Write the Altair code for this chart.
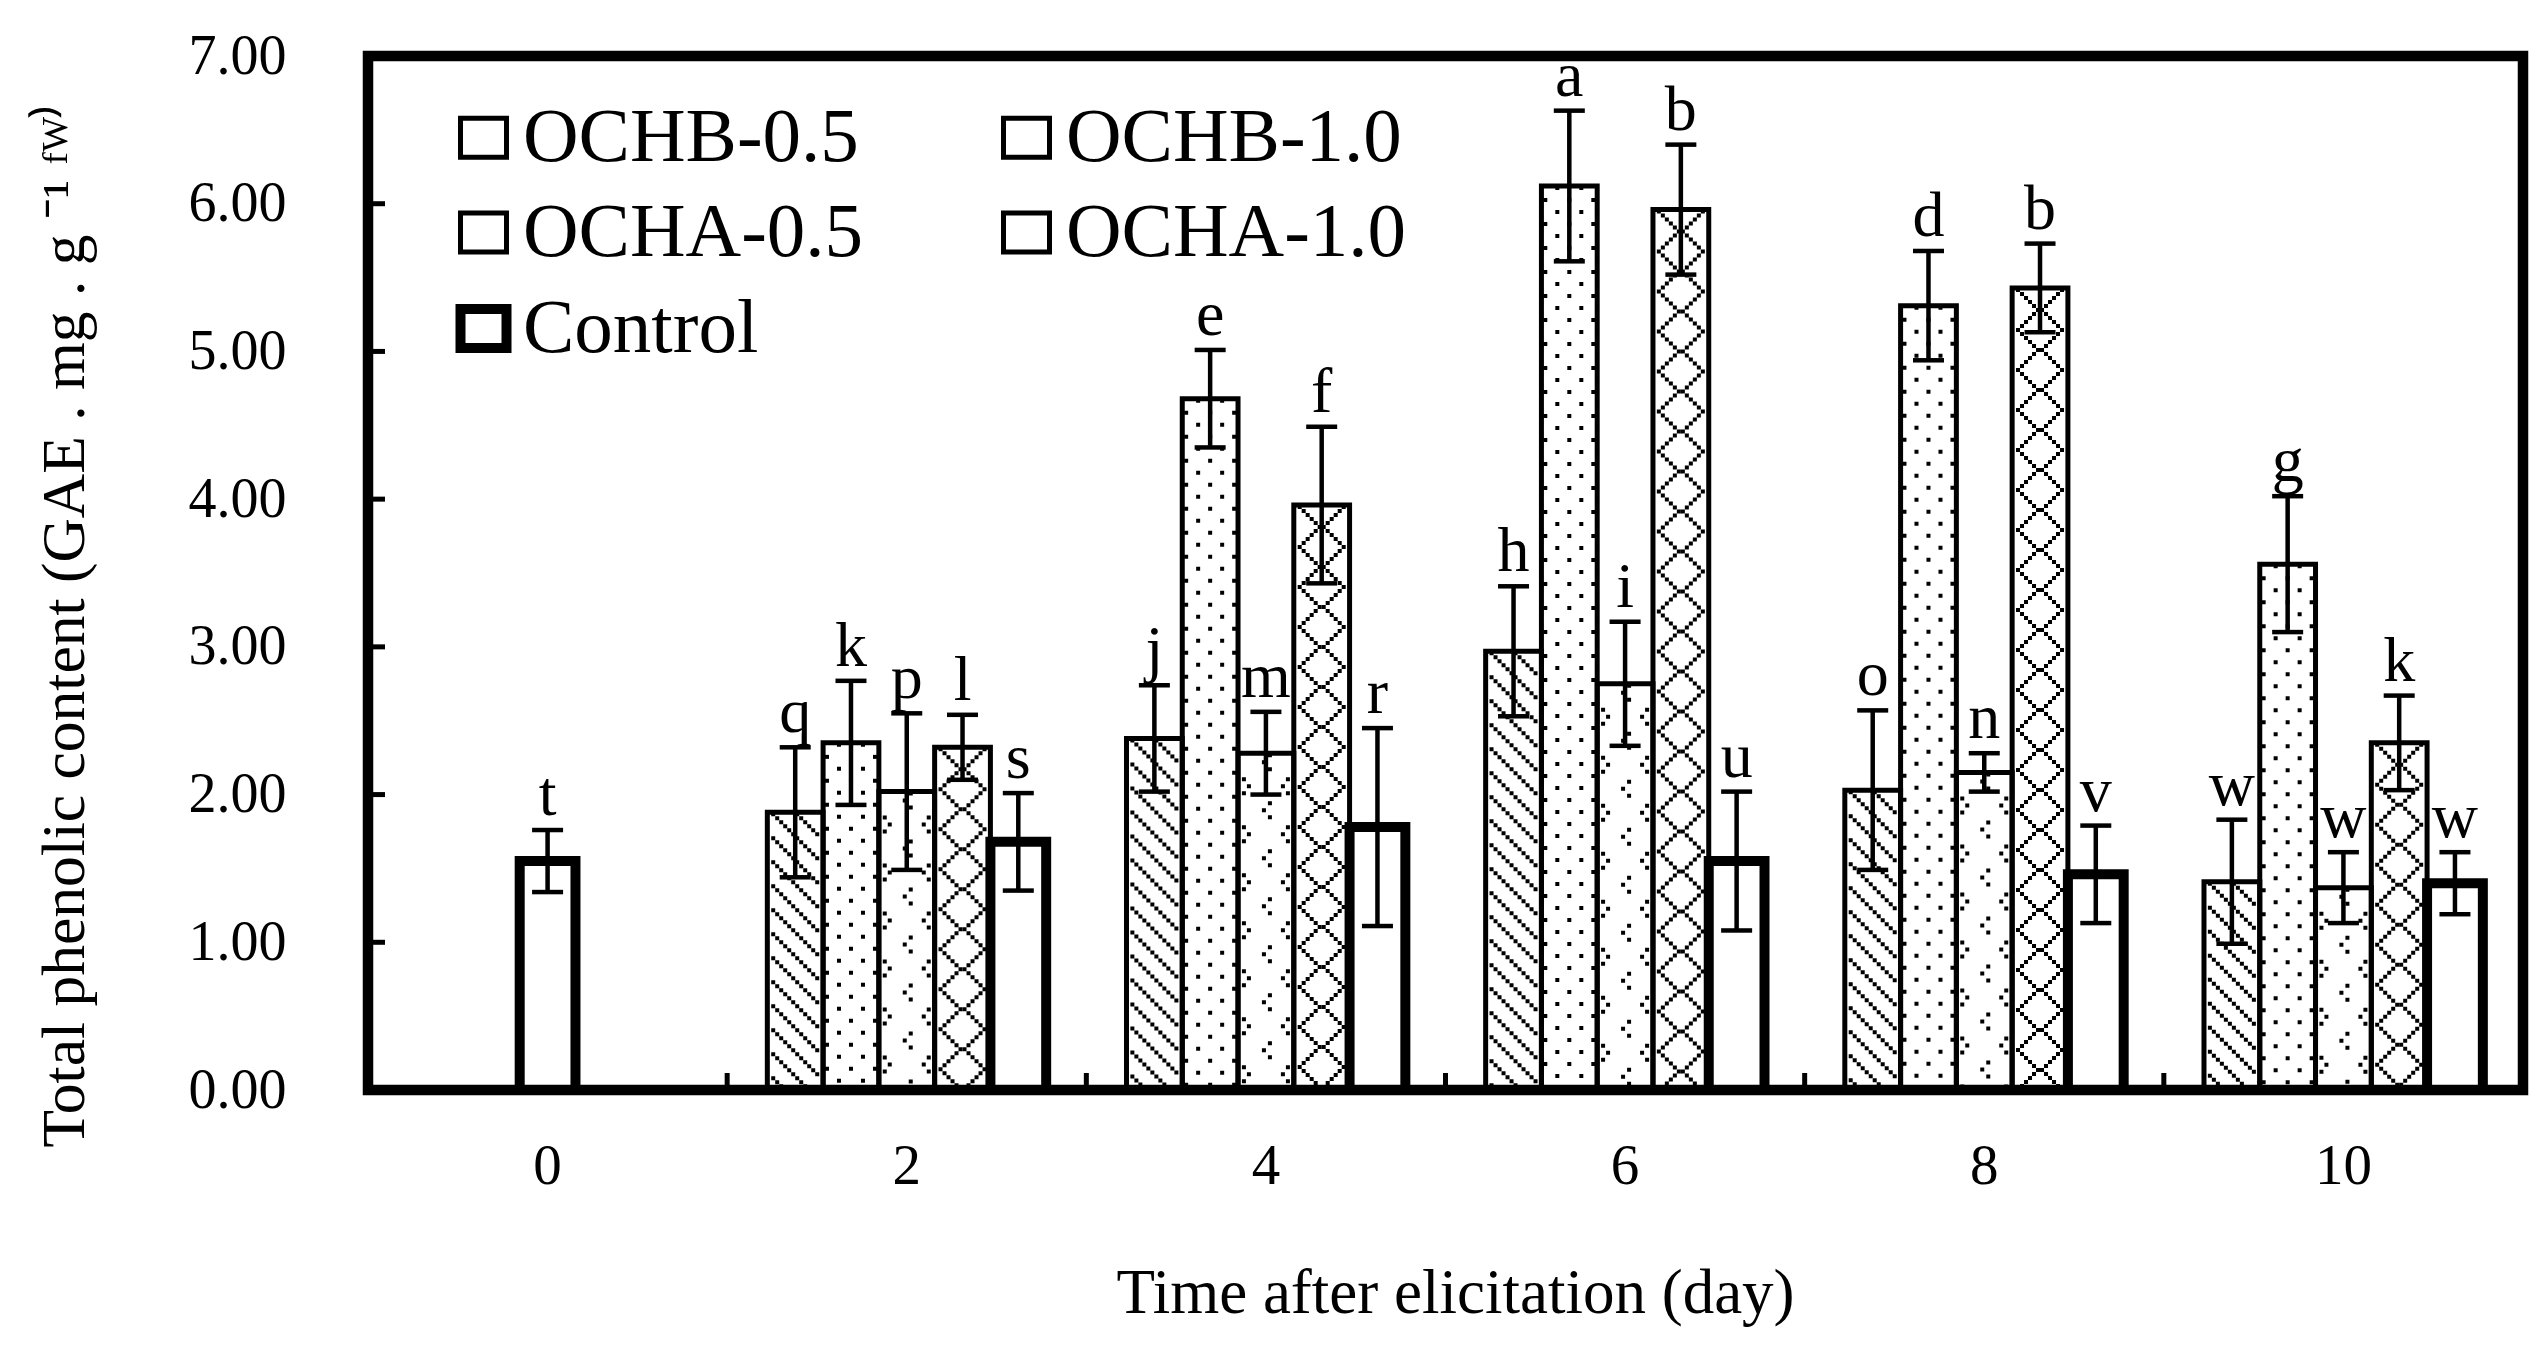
import altair as alt
import pandas as pd

# ---------------------------------------------------------------- data
series = ["OCHB-0.5", "OCHB-1.0", "OCHA-0.5", "OCHA-1.0", "Control"]
days = [0, 2, 4, 6, 8, 10]
treated_days = [2, 4, 6, 8, 10]

ochb_05 = [1.88, 2.38, 2.97, 2.03, 1.41]
ochb_05_sd = [0.44, 0.36, 0.44, 0.54, 0.42]
ochb_05_grp = ["q", "j", "h", "o", "w"]

ochb_10 = [2.35, 4.68, 6.12, 5.31, 3.56]
ochb_10_sd = [0.42, 0.33, 0.51, 0.37, 0.46]
ochb_10_grp = ["k", "e", "a", "d", "g"]

ocha_05 = [2.02, 2.28, 2.75, 2.15, 1.37]
ocha_05_sd = [0.53, 0.28, 0.42, 0.13, 0.24]
ocha_05_grp = ["p", "m", "i", "n", "w"]

ocha_10 = [2.32, 3.96, 5.96, 5.43, 2.35]
ocha_10_sd = [0.22, 0.53, 0.44, 0.30, 0.32]
ocha_10_grp = ["l", "f", "b", "b", "k"]

control = [1.55, 1.68, 1.78, 1.55, 1.46, 1.40]
control_sd = [0.21, 0.33, 0.67, 0.47, 0.33, 0.21]
control_grp = ["t", "s", "r", "u", "v", "w"]

y_label_values = [0, 1, 2, 3, 4, 5, 6, 7]
y_tick_values = [1, 2, 3, 4, 5, 6]

rows = []
for name, vals, sds, grps in [
    ("OCHB-0.5", ochb_05, ochb_05_sd, ochb_05_grp),
    ("OCHB-1.0", ochb_10, ochb_10_sd, ochb_10_grp),
    ("OCHA-0.5", ocha_05, ocha_05_sd, ocha_05_grp),
    ("OCHA-1.0", ocha_10, ocha_10_sd, ocha_10_grp),
]:
    for d, v, s, g in zip(treated_days, vals, sds, grps):
        rows.append({"series": name, "day": d, "value": v, "sd": s, "grp": g})
for d, v, s, g in zip(days, control, control_sd, control_grp):
    rows.append({"series": "Control", "day": d, "value": v, "sd": s, "grp": g})
df = pd.DataFrame(rows)

# ---------------------------------------------------------------- layout
FONT = "Liberation Serif"
W, H = 2155, 1034
N_SLOTS = len(series)
SLOT_PAD = 0.72
STEP = W / len(days)

x_scale = alt.Scale(domain=days, paddingInner=0, paddingOuter=0)
y_scale = alt.Scale(domain=[0, 7], nice=False)
off_scale = alt.Scale(domain=series, paddingInner=0, paddingOuter=SLOT_PAD)

x_plain = alt.X("day:O", scale=x_scale)
x_off = alt.XOffset("slot:N", scale=off_scale)

base = alt.Chart(df).transform_calculate(
    # the lone day-0 control bar sits in the middle of its group
    slot="datum.day === 0 ? 'OCHA-0.5' : datum.series",
    lo="datum.value - datum.sd",
    hi="datum.value + datum.sd",
)

# ---------------------------------------------------------------- axes + legend
legend = alt.Legend(
    title=None, orient="none", legendX=77, legendY=43, columns=2,
    direction="horizontal", columnPadding=124, rowPadding=17, padding=0,
    labelFont=FONT, labelFontSize=77, labelColor="black", labelLimit=1000,
    labelOffset=1, symbolType="M-1,-0.85L1,-0.85L1,0.85L-1,0.85Z",
    symbolSize=2116, symbolStrokeColor="black", symbolFillColor="white",
    symbolOpacity=1,
)

x_axis = alt.Axis(
    labelFont=FONT, labelFontSize=57, labelColor="black", labelAngle=0,
    labelPadding=48, ticks=False, domain=False, grid=False,
    titleFont=FONT, titleFontSize=63, titleFontWeight="normal", titleColor="black",
    titleX=1087, titleY=222, titleAlign="center", titleBaseline="alphabetic",
)
y_axis = alt.Axis(
    values=y_label_values, format=".2f",
    labelFont=FONT, labelFontSize=56, labelColor="black", labelPadding=82,
    ticks=False, domain=False, grid=False,
    titleFont=FONT, titleFontSize=61.5, titleFontWeight="normal", titleColor="black",
    titleAngle=270, titleX=-285, titleY=569, titleAlign="center",
    titleBaseline="alphabetic",
)

# bar outlines carry the axes and the legend
bars = base.mark_bar(fillOpacity=0).encode(
    x=alt.X("day:O", scale=x_scale, axis=x_axis, title="Time after elicitation (day)"),
    xOffset=x_off,
    y=alt.Y("value:Q", scale=y_scale, axis=y_axis,
            title="Total phenolic content (GAE . mg . g ⁻¹ ᶠᵂ⁾"),
    fill=alt.Fill("series:N", scale=alt.Scale(domain=series, range=["white"] * 5),
                  legend=legend),
    stroke=alt.Stroke("series:N", scale=alt.Scale(domain=series, range=["black"] * 5),
                      legend=legend),
    strokeWidth=alt.StrokeWidth("series:N",
                                scale=alt.Scale(type="ordinal", domain=series,
                                                range=[5, 5, 5, 5, 10]),
                                legend=legend),
)

# ---------------------------------------------------------------- fill textures
# each texture is a set of dashed vertical strokes inside the bar:
# (offset from bar centre in px, dash array, dash offset)
def diagonal():
    return [(-22 + 4 * i, [4, 20], (24 - 4 * i) % 24) for i in range(12)]

def dots():
    return [(-24, [4, 20], 12), (-12, [4, 20], 0), (0, [4, 20], 12),
            (12, [4, 20], 0), (24, [4, 20], 12)]

def lattice():
    cols = []
    for i in range(12):
        v = 4 * min(i, 11 - i)
        if v == 0 or v == 20:
            cols.append((-22 + 4 * i, [4, 36], (40 - v) % 40))
        else:
            gap = 40 - 2 * v
            cols.append((-22 + 4 * i, [4, gap - 4, 4, 40 - gap - 4], (40 - v) % 40))
    return cols

def carets():
    return [(4, [4, 10, 4, 30], 0), (-2, [4, 44], 41),
            (-22, [4, 10, 4, 30], 24), (-17, [4, 44], 17),
            (22, [4, 10, 4, 30], 24), (17, [4, 44], 17)]

textures = {
    "OCHB-0.5": diagonal(),
    "OCHB-1.0": dots(),
    "OCHA-0.5": carets(),
    "OCHA-1.0": lattice(),
}

texture_layers = []
for name, cols in textures.items():
    k = series.index(name)
    centre = (SLOT_PAD + k + 0.5) / (N_SLOTS + 2 * SLOT_PAD)
    for dx, dash, dash_off in cols:
        texture_layers.append(
            base.transform_filter(alt.datum.series == name)
            .mark_rule(color="black", strokeWidth=4, strokeDash=dash,
                       strokeDashOffset=dash_off, strokeCap="butt")
            .encode(
                x=alt.X("day:O", scale=x_scale, bandPosition=centre + dx / STEP),
                y=alt.Y("value:Q", scale=y_scale),
                y2=alt.Y2Datum(0),
            )
        )

# ---------------------------------------------------------------- error bars + letters
err = base.mark_rule(color="black", strokeWidth=4.5).encode(
    x=x_plain, xOffset=x_off,
    y=alt.Y("lo:Q", scale=y_scale), y2="hi:Q",
)
cap_lo = base.mark_tick(color="black", size=31, thickness=4.5, opacity=1).encode(
    x=x_plain, xOffset=x_off, y=alt.Y("lo:Q", scale=y_scale),
)
cap_hi = base.mark_tick(color="black", size=31, thickness=4.5, opacity=1).encode(
    x=x_plain, xOffset=x_off, y=alt.Y("hi:Q", scale=y_scale),
)
letters = base.mark_text(font=FONT, fontSize=64, baseline="alphabetic", dy=-15,
                         color="black").encode(
    x=x_plain, xOffset=x_off,
    y=alt.Y("hi:Q", scale=y_scale),
    text="grp:N",
)

# ---------------------------------------------------------------- inward ticks
y_ticks = alt.Chart(pd.DataFrame({"v": y_tick_values})).mark_rule(
    color="black", strokeWidth=5
).encode(
    y=alt.Y("v:Q", scale=y_scale),
    x=alt.value(0), x2=alt.value(17),
)
x_ticks = alt.Chart(pd.DataFrame({"day": days[1:]})).mark_rule(
    color="black", strokeWidth=5
).encode(
    x=alt.X("day:O", scale=x_scale, bandPosition=0),
    y=alt.value(H), y2=alt.value(H - 17),
)

chart = alt.layer(
    bars, *texture_layers, err, cap_lo, cap_hi, letters, y_ticks, x_ticks
).properties(
    width=W, height=H,
    autosize=alt.AutoSizeParams(type="none"),
    padding={"left": 368, "top": 56, "right": 25, "bottom": 263},
    background="white",
).configure_view(stroke="black", strokeWidth=10.5)

chart.save("out.html", embed_options={"renderer": "svg", "actions": False})
